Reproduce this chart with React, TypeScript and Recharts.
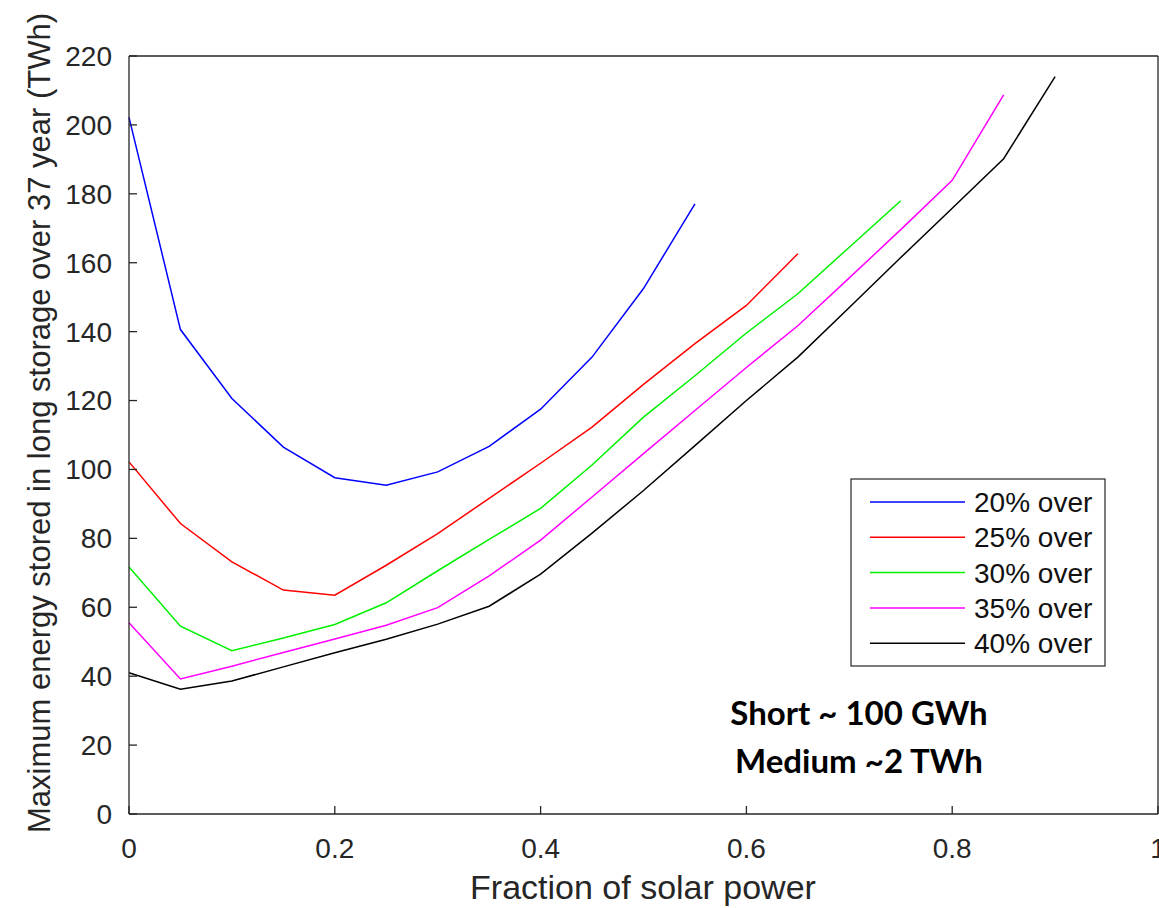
import { LineChart, Line, XAxis, YAxis, Customized } from "recharts";

const solarFraction = [0, 0.05, 0.1, 0.15, 0.2, 0.25, 0.3, 0.35, 0.4, 0.45, 0.5, 0.55, 0.6, 0.65, 0.7, 0.75, 0.8, 0.85, 0.9];

const over20 = [202.2, 140.6, 120.6, 106.5, 97.6, 95.4, 99.3, 106.7, 117.5, 132.6, 152.5, 177.1];
const over25 = [102.2, 84.3, 73.2, 65, 63.5, 72.2, 81.4, 91.6, 101.8, 112.3, 124.7, 136.5, 147.6, 162.6];
const over30 = [71.7, 54.5, 47.4, 51.1, 55, 61.3, 70.6, 79.7, 88.7, 101.3, 115.2, 127.2, 139.6, 151, 164.5, 178];
const over35 = [55.5, 39.2, 42.9, 46.9, 50.8, 54.8, 59.9, 69.1, 79.5, 92, 104.6, 117.1, 129.6, 141.7, 155.6, 169.6, 183.9, 208.7];
const over40 = [41, 36.2, 38.6, 42.7, 46.8, 50.7, 55.1, 60.3, 69.6, 81.5, 93.9, 106.9, 120, 132.6, 147, 161.5, 175.8, 190.2, 214];

const seriesKeys = ["s20", "s25", "s30", "s35", "s40"];
const seriesNames = ["20% over", "25% over", "30% over", "35% over", "40% over"];
const seriesColors = ["#0000ff", "#ff0000", "#00f000", "#ff00ff", "#000000"];
const seriesValues = [over20, over25, over30, over35, over40];

const xTicks = [0, 0.2, 0.4, 0.6, 0.8, 1];
const yTicks = [0, 20, 40, 60, 80, 100, 120, 140, 160, 180, 200, 220];

const data = solarFraction.map((x, i) => {
  const row: { [key: string]: number | undefined } = { x };
  seriesKeys.forEach((k, s) => {
    row[k] = seriesValues[s][i];
  });
  return row;
});

const FONT = '"Liberation Sans", Arial, sans-serif';
const AXIS = "#262626";

function Overlay() {
  return (
    <g fontFamily={FONT}>
      <text
        transform="translate(50, 423) rotate(-90)"
        textAnchor="middle"
        fontSize={31}
        fill={AXIS}
      >
        Maximum energy stored in long storage over 37 year (TWh)
      </text>
      <text x={643} y={899} textAnchor="middle" fontSize={34} fill={AXIS}>
        Fraction of solar power
      </text>

      {/* legend box */}
      <rect x={851} y={479} width={254} height={187} fill="#fff" stroke={AXIS} strokeWidth={1.2} />
      {seriesNames.map((name, i) => {
        const cy = 502 + i * 35.3;
        return (
          <g key={name}>
            <line x1={870} x2={965} y1={cy} y2={cy} stroke={seriesColors[i]} strokeWidth={1.5} />
            <text x={974} y={cy} dy="0.36em" fontSize={28} fill="#111">
              {name}
            </text>
          </g>
        );
      })}

      <g fontFamily="Lato, 'Open Sans', sans-serif" fontWeight={700} fontSize={33} fill="#000" textAnchor="middle">
        <text x={859} y={725}>Short ~ 100 GWh</text>
        <text x={859} y={773}>Medium ~2 TWh</text>
      </g>
    </g>
  );
}

export default function App() {
  return (
    <div style={{ position: "absolute", left: 0, top: 0, width: 1159, height: 908, background: "#fff" }}>
      <LineChart width={1159} height={908} data={data} margin={{ top: 0, right: 0, bottom: 0, left: 0 }}>
        <XAxis
          dataKey="x"
          type="number"
          domain={[0, 1]}
          ticks={xTicks}
          interval={0}
          height={94}
          tickSize={-8}
          tickMargin={32}
          stroke={AXIS}
          strokeWidth={1.3}
          tick={{ fill: AXIS, fontSize: 28, fontFamily: FONT }}
        />
        <XAxis
          xAxisId="top"
          orientation="top"
          dataKey="x"
          type="number"
          domain={[0, 1]}
          ticks={xTicks}
          interval={0}
          height={56}
          tickSize={-8}
          stroke={AXIS}
          strokeWidth={1.3}
          tick={false}
        />
        <YAxis
          type="number"
          domain={[0, 220]}
          ticks={yTicks}
          interval={0}
          width={129}
          tickSize={-8}
          tickMargin={25}
          stroke={AXIS}
          strokeWidth={1.3}
          tick={{ fill: AXIS, fontSize: 28, fontFamily: FONT }}
        />
        <YAxis
          yAxisId="right"
          orientation="right"
          type="number"
          domain={[0, 220]}
          ticks={yTicks}
          interval={0}
          width={1}
          tickSize={-8}
          stroke={AXIS}
          strokeWidth={1.3}
          tick={false}
        />
        {seriesKeys.map((k, i) => (
          <Line
            key={k}
            dataKey={k}
            name={seriesNames[i]}
            type="linear"
            stroke={seriesColors[i]}
            strokeWidth={1.5}
            dot={false}
            isAnimationActive={false}
          />
        ))}
        <Customized component={<Overlay />} />
      </LineChart>
    </div>
  );
}
